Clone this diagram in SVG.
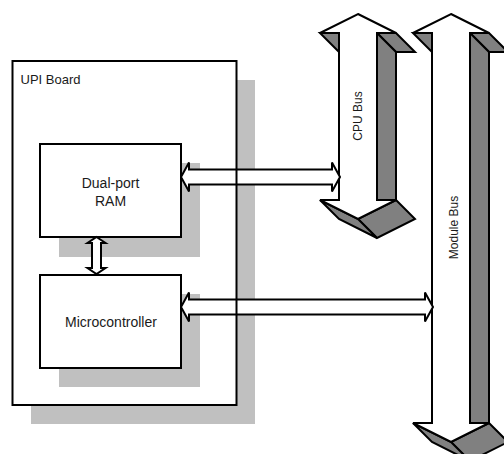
<svg xmlns="http://www.w3.org/2000/svg" width="504" height="454" viewBox="0 0 504 454">
  <style>
    .shadow { fill: #c0c0c0; stroke: none; }
    .box { fill: #ffffff; stroke: #000000; stroke-width: 2; }
    .frame { fill: none; stroke: #000000; stroke-width: 2; }
    .face { fill: #ffffff; stroke: #000000; stroke-width: 2; stroke-linejoin: miter; }
    .side { fill: #808080; stroke: #000000; stroke-width: 2; stroke-linejoin: miter; }
    .conn { fill: #ffffff; stroke: #000000; stroke-width: 2; stroke-linejoin: miter; }
    .label { font-family: "Liberation Sans", Arial, sans-serif; fill: #1a1a1a; }
  </style>

  <!-- UPI board: drop shadow and white panel -->
  <g id="upi-board">
    <rect class="shadow" x="31" y="80" width="224" height="344"/>
    <rect x="12.5" y="61" width="224" height="344" fill="#ffffff"/>
    <text class="label" x="20.5" y="84" font-size="13">UPI Board</text>
  </g>

  <!-- Dual-port RAM -->
  <g id="dual-port-ram">
    <rect class="shadow" x="59" y="163" width="141" height="94"/>
    <rect class="box" x="40" y="144" width="141" height="93"/>
    <text class="label" x="110.5" y="188" font-size="14" text-anchor="middle">Dual-port</text>
    <text class="label" x="110.5" y="206" font-size="14" text-anchor="middle">RAM</text>
  </g>

  <!-- Microcontroller -->
  <g id="microcontroller">
    <rect class="shadow" x="59" y="294" width="141" height="93"/>
    <rect class="box" x="40" y="275" width="141" height="93"/>
    <text class="label" x="111" y="327" font-size="14" text-anchor="middle">Microcontroller</text>
  </g>

  <!-- CPU bus: extruded double-headed arrow -->
  <g id="cpu-bus">
    <polygon class="side" points="320,33 339,33 358,52 339,52"/>
    <polygon class="side" points="377,33 396,33 415,52 396,52"/>
    <polygon class="side" points="377,33 396,52 396,219 377,200"/>
    <polygon class="side" points="396,200 415,219 377,238 358,219"/>
    <polygon class="side" points="320,200 358,219 377,238 339,219"/>
    <polygon class="face" points="358,14 396,33 377,33 377,200 396,200 358,219 320,200 339,200 339,33 320,33"/>
    <text class="label" transform="translate(362,116) rotate(-90)" font-size="12" text-anchor="middle">CPU Bus</text>
  </g>

  <!-- Module bus: extruded double-headed arrow -->
  <g id="module-bus">
    <polygon class="side" points="413,33 432,33 451,52 432,52"/>
    <polygon class="side" points="470,33 489,33 508,52 489,52"/>
    <polygon class="side" points="470,33 489,52 489,442 470,423"/>
    <polygon class="side" points="489,423 508,442 470,461 451,442"/>
    <polygon class="side" points="413,423 451,442 470,461 432,442"/>
    <polygon class="face" points="451,14 489,33 470,33 470,423 489,423 451,442 413,423 432,423 432,33 413,33"/>
    <text class="label" transform="translate(458,227.5) rotate(-90)" font-size="12" text-anchor="middle">Module Bus</text>
  </g>

  <!-- Connectors: hollow double-headed arrows -->
  <g id="connectors">
    <polygon id="ram-cpu" class="conn" points="181,177 189,162.5 189,169.5 332,169.5 332,162.5 340,177 332,191.5 332,184.5 189,184.5 189,191.5"/>
    <polygon id="mcu-module" class="conn" points="181,307 189,292.5 189,299.5 425,299.5 425,292.5 433,307 425,321.5 425,314.5 189,314.5 189,321.5"/>
    <polygon id="ram-mcu" class="conn" points="96.5,237 105.5,243 101,243 101,268 105.5,268 96.5,274 87.5,268 92,268 92,243 87.5,243"/>
  </g>

  <!-- Board outline drawn over the connectors that cross it -->
  <g id="upi-board-frame">
    <rect class="frame" x="12.5" y="61" width="224" height="344"/>
  </g>
</svg>
